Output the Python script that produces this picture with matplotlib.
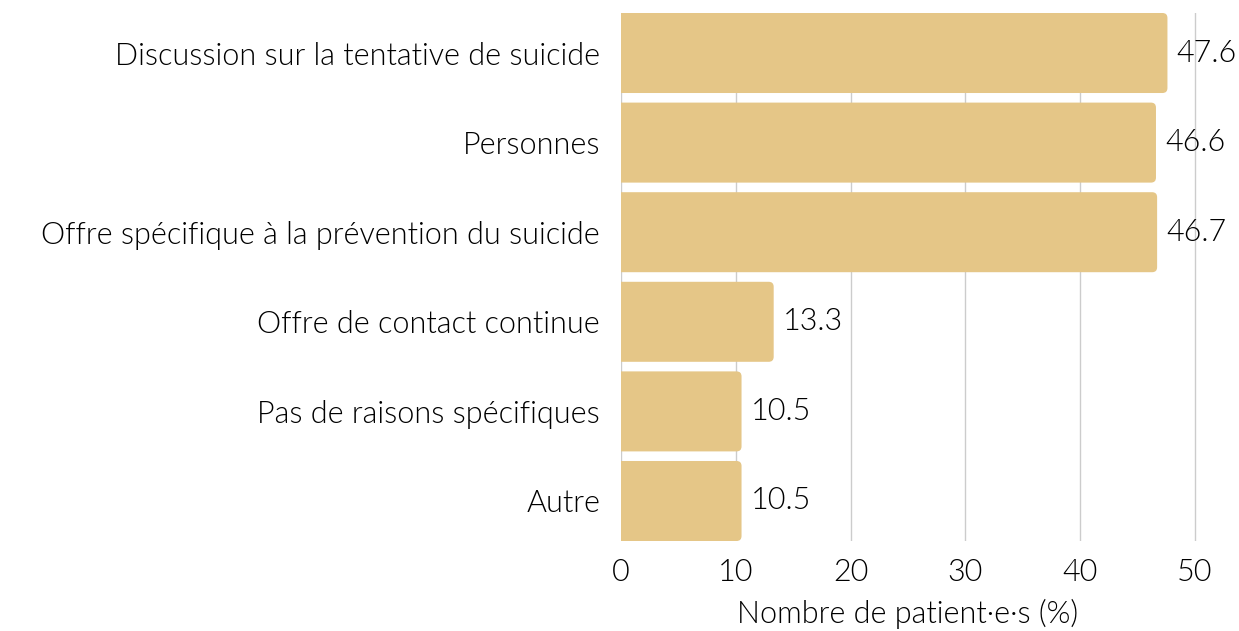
import matplotlib
matplotlib.use("Agg")
import matplotlib.pyplot as plt
from matplotlib.patches import FancyBboxPatch

categories = [
    "Discussion sur la tentative de suicide",
    "Personnes",
    "Offre spécifique à la prévention du suicide",
    "Offre de contact continue",
    "Pas de raisons spécifiques",
    "Autre",
]
values = [47.6, 46.6, 46.7, 13.3, 10.5, 10.5]
xticks = [0, 10, 20, 30, 40, 50]
xlabel = "Nombre de patient·e·s (%)"

plt.rcParams['font.family'] = ['Lato', 'DejaVu Sans']
plt.rcParams['font.weight'] = 300
plt.rcParams['axes.labelweight'] = 300
color = "#E5C687"
fs = 22

fig = plt.figure(figsize=(12.39, 6.31), dpi=100)
px_x = (1195-621)/50.0
ax = fig.add_axes([621/1239, 1-541/631, (1198-621)/1239, (541-13)/631])

n = len(categories)
ys = list(range(n))
h = 0.893
px_y = (541-13)/(n - 1 + h)
r = 5.0
for y, v in zip(ys, values):
    p = FancyBboxPatch((-1, y - h/2), v + 1, h,
                       boxstyle=f"round,pad=0,rounding_size={r/px_x}",
                       mutation_aspect=px_x/px_y,
                       facecolor=color, edgecolor="none", zorder=2)
    ax.add_patch(p)
    ax.text(v + 9/px_x, y, f"{v}", va="center", ha="left", fontsize=fs,
            fontweight=300, color="#000000", clip_on=False, zorder=3)

ax.set_xlim(0, 50 + 3/px_x)
ax.set_ylim(n - 1 + h/2, -h/2)
ax.set_yticks(ys)
ax.set_yticklabels(categories)
ax.set_xticks(xticks)
ax.tick_params(axis='both', length=0, labelsize=fs, colors="#000000")
ax.tick_params(axis='y', pad=15)
ax.tick_params(axis='x', pad=12)
ax.grid(axis='x', color="#cccccc", linewidth=1, zorder=0)
ax.set_axisbelow(True)
for s in ax.spines.values():
    s.set_visible(False)
ax.set_xlabel(xlabel, fontsize=fs, fontweight=300, color="#000000", labelpad=10)
ax.xaxis.set_label_coords((1195+621)/2/1239, 1-614/631, transform=fig.transFigure)
ax.xaxis.label.set_va("center")

fig.savefig("out.png", dpi=100)
